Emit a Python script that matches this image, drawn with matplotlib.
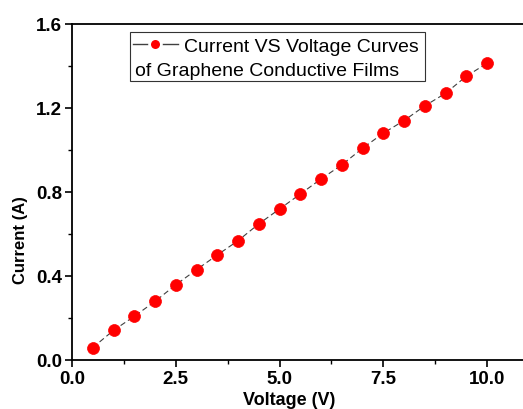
import matplotlib
matplotlib.use("Agg")
import matplotlib.pyplot as plt
from matplotlib.lines import Line2D
from matplotlib.patches import Rectangle
from matplotlib.ticker import MultipleLocator

plt.rcParams['font.family'] = ['Liberation Sans', 'DejaVu Sans']

# I-V data
voltage = [0.5, 1.0, 1.5, 2.0, 2.5, 3.0, 3.5, 4.0, 4.5, 5.0,
           5.5, 6.0, 6.5, 7.0, 7.5, 8.0, 8.5, 9.0, 9.5, 10.0]
current = [0.059, 0.141, 0.208, 0.279, 0.358, 0.430, 0.500, 0.568, 0.648, 0.719,
           0.790, 0.862, 0.929, 1.008, 1.080, 1.140, 1.210, 1.270, 1.351, 1.413]

label1 = "Current VS Voltage Curves"
label2 = "of Graphene Conductive Films"

fig = plt.figure(figsize=(5.23, 4.10), dpi=100)
ax = fig.add_axes([72/523, 49/410, 456.5/523, 336/410])

ax.plot(voltage, current, color='#404040', lw=0.8, ls=(0, (5, 3)),
        marker='o', ms=8.6, mfc='red', mec='red', mew=0.5)

ax.set_xlim(0, 11)
ax.set_ylim(0, 1.6)
ax.xaxis.set_major_locator(MultipleLocator(2.5))
ax.xaxis.set_minor_locator(MultipleLocator(1.25))
ax.yaxis.set_major_locator(MultipleLocator(0.4))
ax.yaxis.set_minor_locator(MultipleLocator(0.2))
ax.xaxis.set_major_formatter(lambda v, p: f"{v:.1f}")
ax.yaxis.set_major_formatter(lambda v, p: f"{v:.1f}")

for s in ax.spines.values():
    s.set_linewidth(1.3)
ax.tick_params(which='major', direction='out', length=5, width=1.2,
               labelsize=13.5, pad=2)
ax.tick_params(which='minor', direction='out', length=3, width=1.0)
for t in ax.get_xticklabels() + ax.get_yticklabels():
    t.set_fontweight('bold')

ax.set_xlabel("Voltage (V)", fontsize=13, fontweight='bold', va='bottom')
ax.xaxis.set_label_coords(0.476, -0.143)
ax.set_ylabel("Current (A)", fontsize=12, fontweight='bold')
ax.yaxis.set_label_coords(-0.096, 0.36)

# Origin-style legend box: handle + first line, second line starts at the left
ax.add_patch(Rectangle((0.127, 0.830), 0.646, 0.146, transform=ax.transAxes,
                       fill=False, ec='#333333', lw=0.8))
handle = Line2D([], [], color='#404040', lw=1.0, marker='o', ms=8.5,
                mfc='red', mec='white', mew=2.0)
ax.legend([handle], [label1], loc='center left', bbox_to_anchor=(0.1336, 0.934),
          frameon=False, borderpad=0, borderaxespad=0, handlelength=2.3,
          handletextpad=0.3, fontsize=14)
ax.text(0.138, 0.863, label2, transform=ax.transAxes, fontsize=14,
        va='center', ha='left')

fig.savefig("out.png", dpi=100)
